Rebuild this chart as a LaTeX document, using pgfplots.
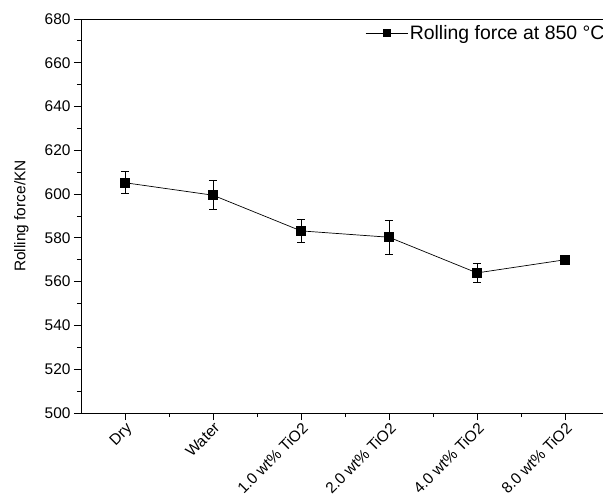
\documentclass[border=0pt]{standalone}
\usepackage{fontspec}
\setmainfont{Liberation Sans}
\usepackage{pgfplots}
\pgfplotsset{compat=1.18}
\begin{document}
\begin{tikzpicture}
\begin{axis}[
  at={(0,0)}, anchor=south west,
  scale only axis,
  width=528bp, height=394bp,
  xmin=-0.5, xmax=5.5,
  ymin=500, ymax=680,
  axis lines*=left,
  extra description/.code={\draw[line width=0.9pt] (rel axis cs:0,1) -- (rel axis cs:1,1);},
  xtick={0,1,2,3,4,5},
  xticklabels={Dry,Water,1.0 wt\% TiO2,2.0 wt\% TiO2,4.0 wt\% TiO2,8.0 wt\% TiO2},
  minor xtick={0.5,1.5,2.5,3.5,4.5},
  ytick={500,520,...,680},
  minor ytick={510,530,...,670},
  tick align=outside,
  major tick length=7bp, minor tick length=4bp,
  every tick/.style={black, line width=0.8pt},
  axis line style={line width=0.9pt, -},
  /pgf/number format/assume math mode=true,
  tick label style={font=\fontsize{15.5}{17}\selectfont},
  xticklabel style={rotate=45, anchor=north east, inner sep=1pt},
  ylabel={Rolling force/KN},
  every axis y label/.style={at={(axis description cs:-0.113,0.5)}, rotate=90, anchor=center,
    font=\fontsize{15.5}{17}\selectfont},
  legend style={at={(0.538,0.964)}, anchor=west, draw=none, fill=none,
    font=\fontsize{19.5}{21}\selectfont, inner sep=0pt},
  legend image code/.code={\draw[mark repeat=2, mark phase=2, #1, line width=0.6pt, mark size=3.5bp] plot coordinates {(0bp,0bp) (21bp,0bp) (42bp,0bp)};},
  legend cell align=left,
]
\addplot[black, line width=0.7pt, mark=square*, mark size=4.5bp,
  mark options={solid},
  error bars/.cd, y dir=both, y explicit,
  error bar style={line width=0.8pt},
  error mark options={rotate=90, mark size=4bp, line width=0.8pt}]
coordinates {
  (0,605.2) +- (0,5.0)
  (1,599.5) +- (0,6.6)
  (2,583.2) +- (0,5.3)
  (3,580.3) +- (0,7.7)
  (4,564.0) +- (0,4.5)
  (5,570.0) +- (0,0)
};
\addlegendentry{Rolling force at 850 °C}
\end{axis}
\pgfresetboundingbox
\path (-81bp,-87bp) rectangle (522bp,413bp);
\end{tikzpicture}
\end{document}
